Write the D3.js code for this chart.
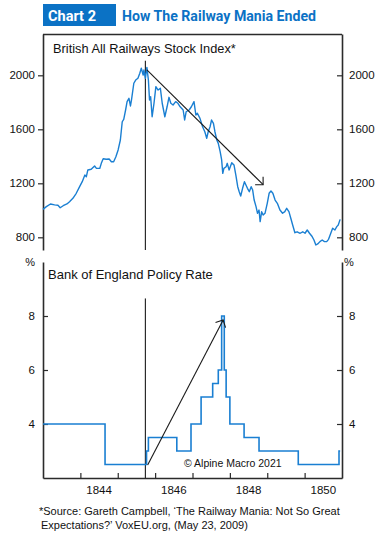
<!DOCTYPE html>
<html>
<head>
<meta charset="utf-8">
<script src="https://cdn.jsdelivr.net/npm/d3@7"></script>
<style>
  body { margin: 0; background: #fff; }
  svg { display: block; }
</style>
</head>
<body>
<div id="chart"></div>
<script>
// --- Data ---
// stock index: decimal year + index level
const stockDates = [
  1843.00, 1843.09, 1843.20, 1843.31, 1843.40, 1843.46, 1843.54, 1843.64, 1843.71, 1843.80,
  1843.89, 1843.98, 1844.05, 1844.12, 1844.16, 1844.20, 1844.29, 1844.38, 1844.43, 1844.52,
  1844.56, 1844.61, 1844.69, 1844.77, 1844.83, 1844.89, 1844.95, 1845.01, 1845.07, 1845.12,
  1845.16, 1845.21, 1845.25, 1845.30, 1845.34, 1845.37, 1845.43, 1845.48, 1845.54, 1845.59,
  1845.63, 1845.68, 1845.70, 1845.74, 1845.78, 1845.82, 1845.85, 1845.88, 1845.92, 1845.97,
  1846.02, 1846.08, 1846.14, 1846.19, 1846.26, 1846.32, 1846.37, 1846.42, 1846.48, 1846.55,
  1846.61, 1846.67, 1846.75, 1846.79, 1846.83, 1846.91, 1846.97, 1847.04, 1847.09, 1847.13,
  1847.20, 1847.27, 1847.33, 1847.38, 1847.42, 1847.47, 1847.51, 1847.56, 1847.60, 1847.65,
  1847.69, 1847.74, 1847.78, 1847.81, 1847.84, 1847.90, 1847.93, 1847.98, 1848.05, 1848.11,
  1848.16, 1848.21, 1848.25, 1848.29, 1848.34, 1848.39, 1848.43, 1848.47, 1848.52, 1848.57,
  1848.61, 1848.65, 1848.70, 1848.74, 1848.78, 1848.81, 1848.85, 1848.89, 1848.94, 1849.00,
  1849.05, 1849.10, 1849.15, 1849.21, 1849.27, 1849.34, 1849.41, 1849.47, 1849.52, 1849.58,
  1849.63, 1849.68, 1849.74, 1849.80, 1849.88, 1849.95, 1850.01, 1850.07, 1850.13, 1850.19,
  1850.25, 1850.30, 1850.35, 1850.41, 1850.47, 1850.53, 1850.59, 1850.64, 1850.70, 1850.75,
  1850.81, 1850.86, 1850.90, 1850.95
];
const stockValues = [
  1007, 1027, 1047, 1040, 1037, 1019, 1034, 1047, 1064, 1089,
  1126, 1175, 1212, 1261, 1249, 1299, 1304, 1328, 1311, 1311,
  1348, 1382, 1378, 1380, 1360, 1360, 1397, 1447, 1521, 1656,
  1674, 1743, 1805, 1830, 1773, 1822, 1941, 1965, 1978, 2015,
  2052, 2002, 2039, 1978, 2059, 1965, 1817, 1841, 1693, 1793,
  1916, 1891, 1904, 1793, 1693, 1767, 1837, 1793, 1780, 1805,
  1793, 1767, 1743, 1669, 1730, 1743, 1767, 1805, 1706, 1719,
  1681, 1619, 1582, 1533, 1582, 1619, 1669, 1644, 1582, 1521,
  1496, 1434, 1373, 1274, 1311, 1323, 1348, 1299, 1353, 1336,
  1261, 1175, 1138, 1106, 1163, 1212, 1187, 1163, 1138, 1175,
  1150, 1076, 1027, 978, 1002, 916, 990, 965, 978, 1052,
  1126, 1143, 1126, 1076, 1052, 1002, 978, 990, 1015, 990,
  941, 891, 834, 841, 830, 841, 830, 854, 830, 810,
  780, 743, 751, 768, 780, 768, 768, 785, 830, 867,
  854, 879, 891, 933
];

// Bank rate changes (step after)
const rateDates  = [1843.00, 1844.66, 1845.77, 1845.82, 1846.58, 1846.96, 1847.23, 1847.54, 1847.69, 1847.78, 1847.85, 1847.90, 1848.00, 1848.38, 1848.78, 1849.83, 1850.92, 1850.95];
const rateValues = [4, 2.5, 3, 3.5, 3, 4, 5, 5.5, 6, 8, 6, 5, 4, 3.5, 3, 2.5, 3, 3];

const stockTicks = [800, 1200, 1600, 2000];
const rateTicks = [4, 6, 8];
const yearTicks = [1844, 1845, 1846, 1847, 1848, 1849, 1850];
const yearLabels = [1844, 1846, 1848, 1850];

// annotation: peak of the mania + trend arrows (in data units)
const peakDate = 1845.74;
const peakLineTop = [2108, 8.65];
const stockArrow = [[1845.78, 2040], [1848.89, 1190]];
const rateArrow = [[1845.80, 2.48], [1847.82, 7.85]];

// --- Layout ---
const W = 381, H = 535;
const left = 43, right = 342;
const topPanel = { top: 34, bottom: 250 };
const botPanel = { top: 262, bottom: 478 };
const blue = "#1a7fd2";
const ink = "#2b2b2b";
const font = "'Liberation Sans', Arial, Helvetica, sans-serif";

const svg = d3.select("#chart").append("svg")
    .attr("width", W)
    .attr("height", H)
    .style("font-family", font);

// --- Scales ---
const x = d3.scaleLinear().domain([1843, 1851]).range([left, right]);
const yStock = d3.scaleLinear().domain([706, 2306]).range([topPanel.bottom, topPanel.top]);
const yRate = d3.scaleLinear().domain([2, 10]).range([botPanel.bottom, botPanel.top]);

// --- Header ---
svg.append("rect")
    .attr("x", 43).attr("y", 4)
    .attr("width", 73).attr("height", 22)
    .attr("fill", "#0b72c5");
svg.append("text")
    .attr("x", 48).attr("y", 21)
    .attr("fill", "#fff")
    .attr("textLength", 48)
    .attr("lengthAdjust", "spacingAndGlyphs")
    .style("font-family", "Roboto, sans-serif")
    .style("font-weight", 700)
    .style("font-size", "15.5px")
    .text("Chart 2");
svg.append("text")
    .attr("x", 122).attr("y", 21)
    .attr("fill", "#0b72c5")
    .attr("textLength", 194)
    .attr("lengthAdjust", "spacingAndGlyphs")
    .style("font-family", "Roboto, sans-serif")
    .style("font-weight", 700)
    .style("font-size", "15.5px")
    .text("How The Railway Mania Ended");

// helper for styling axes
const styleAxis = g => {
    g.selectAll("path.domain").attr("stroke", ink).attr("stroke-width", 1.6);
    g.selectAll(".tick line").attr("stroke", ink).attr("stroke-width", 1.2);
    g.selectAll("text")
        .attr("fill", "#111")
        .style("font-family", font)
        .style("font-size", "11.5px");
};

// --- Top panel: stock index ---
svg.append("line")
    .attr("x1", left).attr("x2", right)
    .attr("y1", topPanel.top + 0.5).attr("y2", topPanel.top + 0.5)
    .attr("stroke", ink).attr("stroke-width", 1.6);

svg.append("g")
    .attr("transform", `translate(${left},0)`)
    .call(d3.axisLeft(yStock).tickValues(stockTicks).tickFormat(d3.format("d"))
        .tickSizeInner(5).tickSizeOuter(0).tickPadding(3))
    .call(styleAxis);

svg.append("g")
    .attr("transform", `translate(${right},0)`)
    .call(d3.axisRight(yStock).tickValues(stockTicks).tickFormat(d3.format("d"))
        .tickSizeInner(-5).tickSizeOuter(0).tickPadding(7))
    .call(styleAxis);

svg.append("text")
    .attr("x", 53).attr("y", 53)
    .style("font-size", "12.8px")
    .attr("fill", "#111")
    .text("British All Railways Stock Index*");

svg.append("line")
    .attr("x1", x(peakDate)).attr("x2", x(peakDate))
    .attr("y1", yStock(peakLineTop[0])).attr("y2", topPanel.bottom)
    .attr("stroke", ink).attr("stroke-width", 1.2);

const stockData = stockDates.map((d, i) => ({ t: d, v: stockValues[i] }));
svg.append("path")
    .datum(stockData)
    .attr("fill", "none")
    .attr("stroke", blue)
    .attr("stroke-width", 1.4)
    .attr("stroke-linejoin", "round")
    .attr("d", d3.line().x(d => x(d.t)).y(d => yStock(d.v)));

// --- Bottom panel: bank rate ---
svg.append("g")
    .attr("transform", `translate(${left},0)`)
    .call(d3.axisLeft(yRate).tickValues(rateTicks).tickSizeInner(-5).tickSizeOuter(0).tickPadding(8))
    .call(styleAxis);

svg.append("g")
    .attr("transform", `translate(${right},0)`)
    .call(d3.axisRight(yRate).tickValues(rateTicks).tickSizeInner(-5).tickSizeOuter(0).tickPadding(7))
    .call(styleAxis);

svg.append("g")
    .attr("transform", `translate(0,${botPanel.bottom})`)
    .call(d3.axisBottom(x).tickValues(yearTicks).tickSizeInner(-5).tickSizeOuter(0).tickFormat(""))
    .call(styleAxis);

svg.selectAll("text.year")
    .data(yearLabels)
    .join("text")
    .attr("class", "year")
    .attr("x", d => x(d + 0.5))
    .attr("y", 493.5)
    .attr("text-anchor", "middle")
    .style("font-size", "11.5px")
    .attr("fill", "#111")
    .text(d => d);

svg.selectAll("text.pct")
    .data([35, 344])
    .join("text")
    .attr("class", "pct")
    .attr("x", d => d)
    .attr("y", 266)
    .attr("text-anchor", (d, i) => i === 0 ? "end" : "start")
    .style("font-size", "11px")
    .attr("fill", "#111")
    .text("%");

svg.append("text")
    .attr("x", 48).attr("y", 279)
    .style("font-size", "13px")
    .attr("fill", "#111")
    .text("Bank of England Policy Rate");

svg.append("line")
    .attr("x1", x(peakDate)).attr("x2", x(peakDate))
    .attr("y1", yRate(peakLineTop[1])).attr("y2", botPanel.bottom)
    .attr("stroke", ink).attr("stroke-width", 1.2);

const rateData = rateDates.map((d, i) => ({ t: d, v: rateValues[i] }));
svg.append("path")
    .datum(rateData)
    .attr("fill", "none")
    .attr("stroke", blue)
    .attr("stroke-width", 1.6)
    .attr("d", d3.line().curve(d3.curveStepAfter).x(d => x(d.t)).y(d => yRate(d.v)));

svg.append("text")
    .attr("x", 184).attr("y", 466.5)
    .style("font-size", "10.5px")
    .attr("fill", "#111")
    .text("\u00a9 Alpine Macro 2021");

// --- Arrows (open V head) ---
const drawArrow = (pts, yScale) => {
    const [x1, y1] = [x(pts[0][0]), yScale(pts[0][1])];
    const [x2, y2] = [x(pts[1][0]), yScale(pts[1][1])];
    const ang = Math.atan2(y2 - y1, x2 - x1);
    const len = 8, spread = Math.PI / 4;
    const g = svg.append("g")
        .attr("stroke", "#1a1a1a")
        .attr("stroke-width", 1.1)
        .attr("fill", "none");
    g.append("line").attr("x1", x1).attr("y1", y1).attr("x2", x2).attr("y2", y2);
    g.append("path").attr("d",
        `M${x2 - len * Math.cos(ang - spread)},${y2 - len * Math.sin(ang - spread)}` +
        `L${x2},${y2}` +
        `L${x2 - len * Math.cos(ang + spread)},${y2 - len * Math.sin(ang + spread)}`);
};
drawArrow(stockArrow, yStock);
drawArrow(rateArrow, yRate);

// --- Footnote ---
const notes = [
    "*Source: Gareth Campbell, \u2018The Railway Mania: Not So Great",
    "Expectations?\u2019 VoxEU.org, (May 23, 2009)"
];
svg.selectAll("text.note")
    .data(notes)
    .join("text")
    .attr("class", "note")
    .attr("x", (d, i) => i === 0 ? 39 : 41)
    .attr("y", (d, i) => 515 + i * 13.5)
    .style("font-size", "11px")
    .attr("fill", "#111")
    .text(d => d);
</script>
</body>
</html>
